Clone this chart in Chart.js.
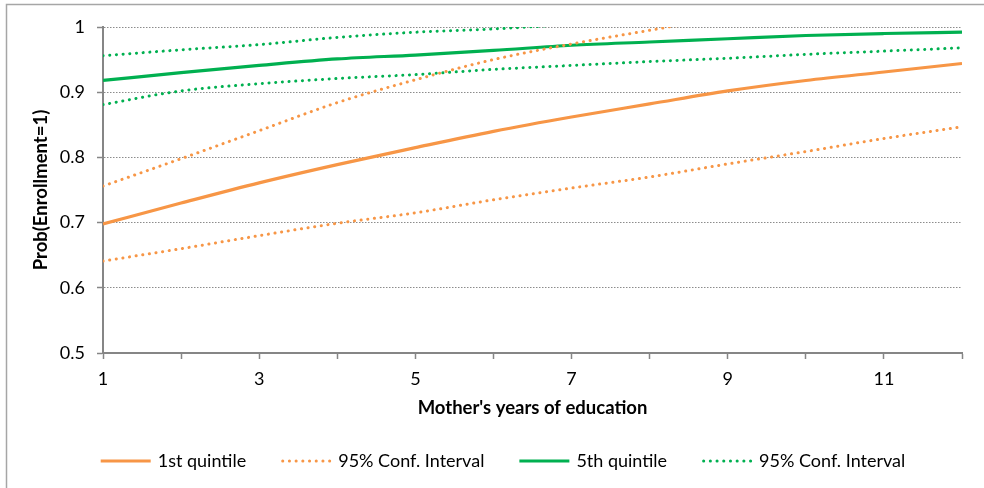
<!DOCTYPE html>
<html>
<head>
<meta charset="utf-8">
<script src="https://cdn.jsdelivr.net/npm/chart.js@4"></script>
<style>
  body { margin: 0; background: #fff; }
  #wrap { width: 984px; height: 488px; position: relative; }
</style>
</head>
<body>
<div id="wrap"><canvas id="myChart"></canvas></div>
<script>
// years of mother's education (x categories)
var years = ['1', '2', '3', '4', '5', '6', '7', '8', '9', '10', '11', '12'];
var xTickLabels = ['1', '', '3', '', '5', '', '7', '', '9', '', '11', ''];
var yTickValues = [0.5, 0.6, 0.7, 0.8, 0.9, 1];

// 1st quintile: prediction and 95% CI
var q1 = [0.698, 0.730, 0.761, 0.789, 0.815, 0.840, 0.862, 0.882, 0.902, 0.918, 0.931, 0.944];
var q1Upper = [0.756, 0.798, 0.841, 0.884, 0.919, 0.950, 0.974, 0.995, 1.015, 1.030, 1.045, 1.060];
var q1Lower = [0.641, 0.660, 0.680, 0.699, 0.715, 0.735, 0.753, 0.770, 0.790, 0.809, 0.829, 0.847];

// 5th quintile: prediction and 95% CI
var q5 = [0.918, 0.930, 0.941, 0.951, 0.957, 0.964, 0.972, 0.977, 0.982, 0.987, 0.990, 0.992];
var q5Upper = [0.956, 0.965, 0.973, 0.984, 0.992, 0.997, 1.004, 1.010, 1.014, 1.017, 1.020, 1.023];
var q5Lower = [0.881, 0.902, 0.913, 0.921, 0.927, 0.935, 0.941, 0.947, 0.952, 0.958, 0.963, 0.968];

var orange = '#F79646';
var green = '#00B050';
var FONT = 'Lato';
var FS = 18;
var DOTS = [0.1, 6.6];

function solid(label, data, color) {
    return {
        label: label, data: data, borderColor: color, backgroundColor: color,
        borderWidth: 3.2, pointRadius: 0, fill: false,
        cubicInterpolationMode: 'monotone', clip: 0
    };
}
function dotted(label, data, color) {
    return {
        label: label, data: data, borderColor: color, backgroundColor: color,
        borderWidth: 3, borderDash: DOTS, borderCapStyle: 'round',
        pointRadius: 0, fill: false,
        cubicInterpolationMode: 'monotone', clip: 0
    };
}

// frame round the chart (right/bottom edges fall outside the picture)
var frame = {
    id: 'frame',
    beforeDraw: function(chart) {
        var c = chart.ctx;
        c.save();
        c.strokeStyle = '#A6A6A6';
        c.lineWidth = 1.5;
        c.strokeRect(6.5, 4.5, 1100, 1100);
        c.restore();
    }
};

// legend drawn by hand so the dotted keys show as dots
var legendItems = [
    { ds: 0, dotted: false },
    { ds: 1, dotted: true },
    { ds: 3, dotted: false },
    { ds: 4, dotted: true }
];
var keyLegend = {
    id: 'keyLegend',
    afterDraw: function(chart) {
        var c = chart.ctx;
        var lineLen = 50, gap = 7, spacing = 35, cy = 461;
        c.save();
        c.font = FS + 'px ' + FONT;
        var widths = legendItems.map(function(it) {
            return lineLen + gap + c.measureText(chart.data.datasets[it.ds].label).width;
        });
        var total = widths.reduce(function(a, b) { return a + b; }, 0) + spacing * (widths.length - 1);
        var x = 503 - total / 2;
        legendItems.forEach(function(it, i) {
            var ds = chart.data.datasets[it.ds];
            c.beginPath();
            c.strokeStyle = ds.borderColor;
            c.lineWidth = ds.borderWidth;
            c.lineCap = it.dotted ? 'round' : 'butt';
            c.setLineDash(it.dotted ? DOTS : []);
            c.moveTo(x + (it.dotted ? 1.5 : 0), cy);
            c.lineTo(x + lineLen, cy);
            c.stroke();
            c.setLineDash([]);
            c.fillStyle = '#000';
            c.textBaseline = 'middle';
            c.textAlign = 'left';
            c.fillText(ds.label, x + lineLen + gap, cy);
            x += widths[i] + spacing;
        });
        c.restore();
    }
};

var ctx = document.getElementById('myChart').getContext('2d');
var chart = new Chart(ctx, {
    type: 'line',
    data: {
        labels: years,
        datasets: [
            solid('1st quintile', q1, orange),
            dotted('95% Conf. Interval', q1Upper, orange),
            dotted('95% Conf. Interval', q1Lower, orange),
            solid('5th quintile', q5, green),
            dotted('95% Conf. Interval', q5Upper, green),
            dotted('95% Conf. Interval', q5Lower, green)
        ]
    },
    options: {
        responsive: true,
        maintainAspectRatio: false,
        animation: false,
        layout: { padding: { top: 27, right: 22, left: 0, bottom: 69 } },
        plugins: {
            legend: { display: false },
            tooltip: { enabled: false }
        },
        scales: {
            x: {
                offset: false,
                grid: { drawOnChartArea: false, drawTicks: true, tickLength: 6, tickColor: '#868686', tickWidth: 1.5 },
                border: { color: '#868686', width: 2 },
                ticks: {
                    autoSkip: false, maxRotation: 0, padding: 9, color: '#000',
                    font: { family: FONT, size: FS },
                    callback: function(v, i) { return xTickLabels[i]; }
                },
                title: {
                    display: true, text: "Mother's years of education", color: '#000',
                    font: { family: FONT, size: 18.5, weight: 'bold' },
                    padding: { top: 0, bottom: 0 }
                },
                afterFit: function(s) { s.height = 66; }
            },
            y: {
                min: 0.5, max: 1,
                grid: { color: '#8C8C8C', lineWidth: 1, drawTicks: true, tickLength: 6, tickColor: '#868686', tickWidth: 1.5, tickBorderDash: [] },
                border: { color: '#868686', width: 2, dash: [1.5, 1.5] },
                afterBuildTicks: function(s) { s.ticks = yTickValues.map(function(v) { return { value: v }; }); },
                ticks: {
                    padding: 12, color: '#000',
                    font: { family: FONT, size: FS },
                    callback: function(v) { return String(Math.round(v * 10) / 10); }
                },
                title: {
                    display: true, text: 'Prob(Enrollment=1)', color: '#000',
                    font: { family: FONT, size: 18.5, weight: 'bold' },
                    padding: { top: 30, bottom: 0 }
                },
                afterFit: function(s) { s.width = 103; }
            }
        }
    },
    plugins: [frame, keyLegend]
});
</script>
</body>
</html>
